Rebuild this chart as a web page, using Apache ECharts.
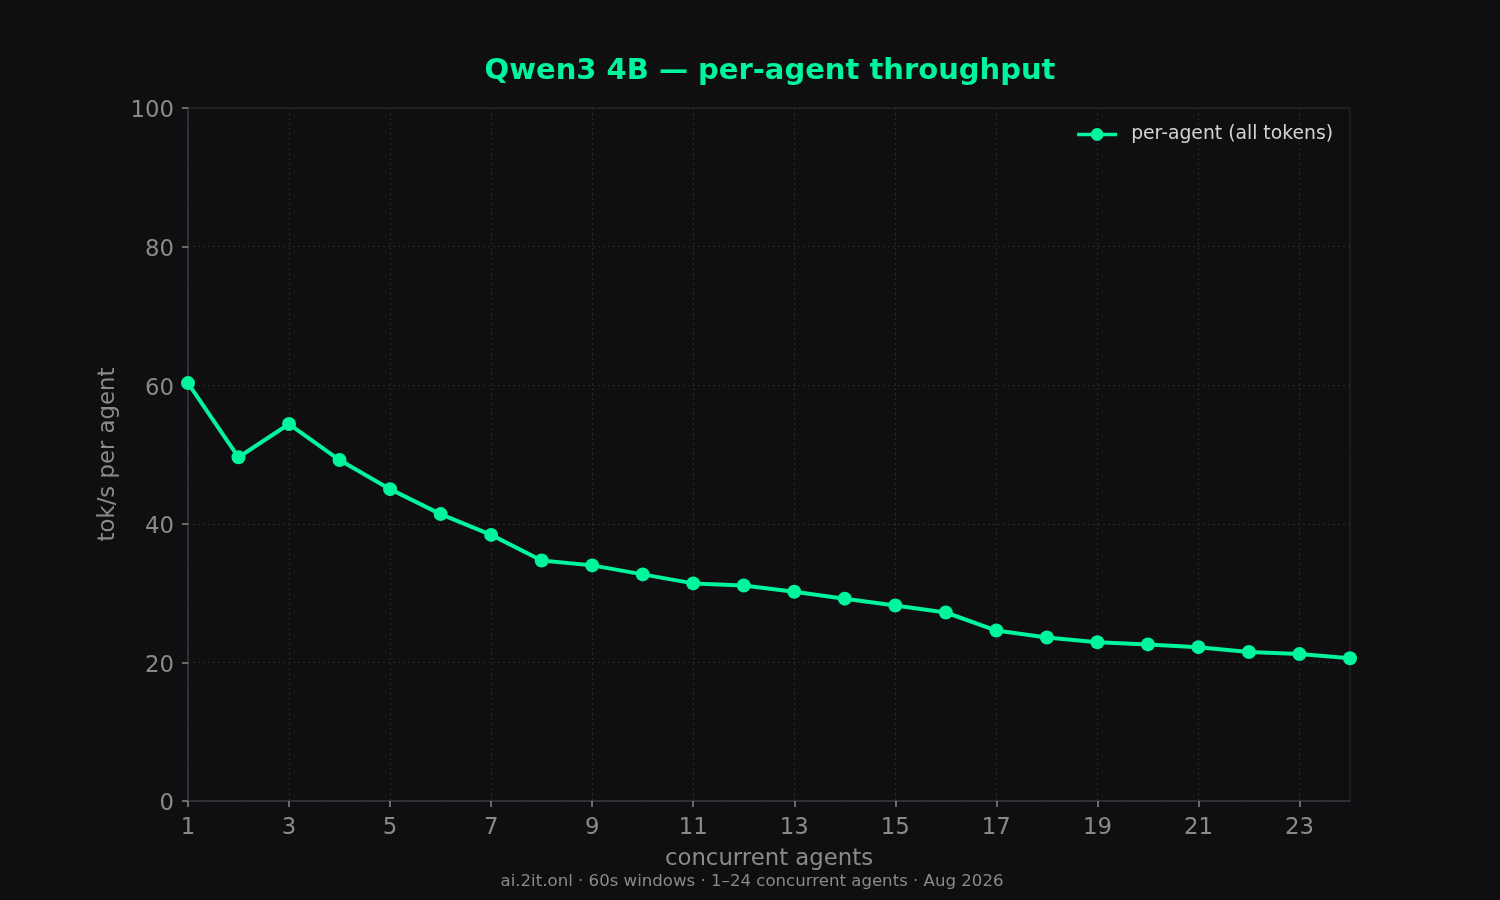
<!DOCTYPE html>
<html>
<head>
<meta charset="utf-8">
<script src="https://cdn.jsdelivr.net/npm/echarts@6/dist/echarts.min.js"></script>
<style>
  html, body { margin: 0; padding: 0; background: #0f0f11; }
  #main { width: 1500px; height: 900px; }
</style>
</head>
<body>
<div id="main"></div>
<script>
  // concurrent agents 1..24
  const agents = ['1', '2', '3', '4', '5', '6', '7', '8', '9', '10', '11', '12',
    '13', '14', '15', '16', '17', '18', '19', '20', '21', '22', '23', '24']
  // tok/s per agent
  const perAgent = [60.3, 49.6, 54.4, 49.2, 45.0, 41.4, 38.4, 34.7, 34.0, 32.7, 31.4, 31.1,
    30.2, 29.2, 28.2, 27.2, 24.6, 23.6, 22.9, 22.6, 22.2, 21.5, 21.2, 20.6]
  const yTicks = [0, 20, 40, 60, 80, 100]

  const green = '#00f59c'
  const font = 'DejaVu Sans'
  const axisFont = 22.8
  let myEcharts = echarts.init(document.querySelector('#main'))
  let option = {
    backgroundColor: '#0f0f11',
    textStyle: { fontFamily: font },
    title: [
      {
        text: 'Qwen3 4B — per-agent throughput',
        left: 765, top: 52, textAlign: 'center',
        textStyle: { color: green, fontSize: 29, fontWeight: 'bold', fontFamily: font }
      },
      {
        text: 'ai.2it.onl · 60s windows · 1–24 concurrent agents · Aug 2026',
        left: 747, top: 868, textAlign: 'center',
        textStyle: { color: '#8a8a8a', fontSize: 16.6, fontWeight: 'normal', fontFamily: font }
      }
    ],
    legend: {
      right: 162, top: 120,
      itemWidth: 40, itemHeight: 16, itemGap: 14,
      lineStyle: { width: 3.5 },
      textStyle: { color: '#d4d4d4', fontSize: 18.8, fontFamily: font, padding: [0, 0, 0, 9] },
      data: ['per-agent (all tokens)']
    },
    grid: {
      show: true,
      left: 188, right: 150, top: 108, bottom: 99,
      borderColor: '#2c2c31', borderWidth: 1,
      containLabel: false
    },
    xAxis: {
      type: 'category',
      data: agents,
      boundaryGap: false,
      name: 'concurrent agents',
      nameLocation: 'middle',
      nameGap: 47,
      nameTextStyle: { color: '#8a8a8a', fontSize: axisFont, fontFamily: font },
      axisLine: { lineStyle: { color: '#34343a', width: 1.5 } },
      axisTick: { show: true, interval: 1, length: 6, lineStyle: { color: '#8a8a8a', width: 1.5 } },
      axisLabel: { interval: 1, color: '#8a8a8a', fontSize: axisFont, margin: 16, fontFamily: font },
      splitLine: { show: true, interval: 1, lineStyle: { color: '#2a2a2e', type: [2, 3], width: 1 } }
    },
    yAxis: {
      type: 'value',
      min: yTicks[0], max: yTicks[yTicks.length - 1], interval: 20,
      name: 'tok/s per agent',
      nameLocation: 'middle',
      nameGap: 67,
      nameTextStyle: { color: '#8a8a8a', fontSize: axisFont, fontFamily: font },
      axisLine: { show: true, lineStyle: { color: '#34343a', width: 1.5 } },
      axisTick: { show: true, length: 6, lineStyle: { color: '#8a8a8a', width: 1.5 } },
      axisLabel: {
        color: '#8a8a8a', fontSize: axisFont, margin: 14, fontFamily: font,
        verticalAlign: 'top', lineHeight: 7
      },
      splitLine: { show: true, lineStyle: { color: '#2a2a2e', type: [2, 3], width: 1 } }
    },
    series: [
      {
        name: 'per-agent (all tokens)',
        type: 'line',
        data: perAgent,
        symbol: 'circle',
        symbolSize: 14,
        clip: true,
        lineStyle: { color: green, width: 4 },
        itemStyle: { color: green },
        emphasis: { disabled: true }
      }
    ],
    animation: false
  }
  myEcharts.setOption(option)
</script>
</body>
</html>
